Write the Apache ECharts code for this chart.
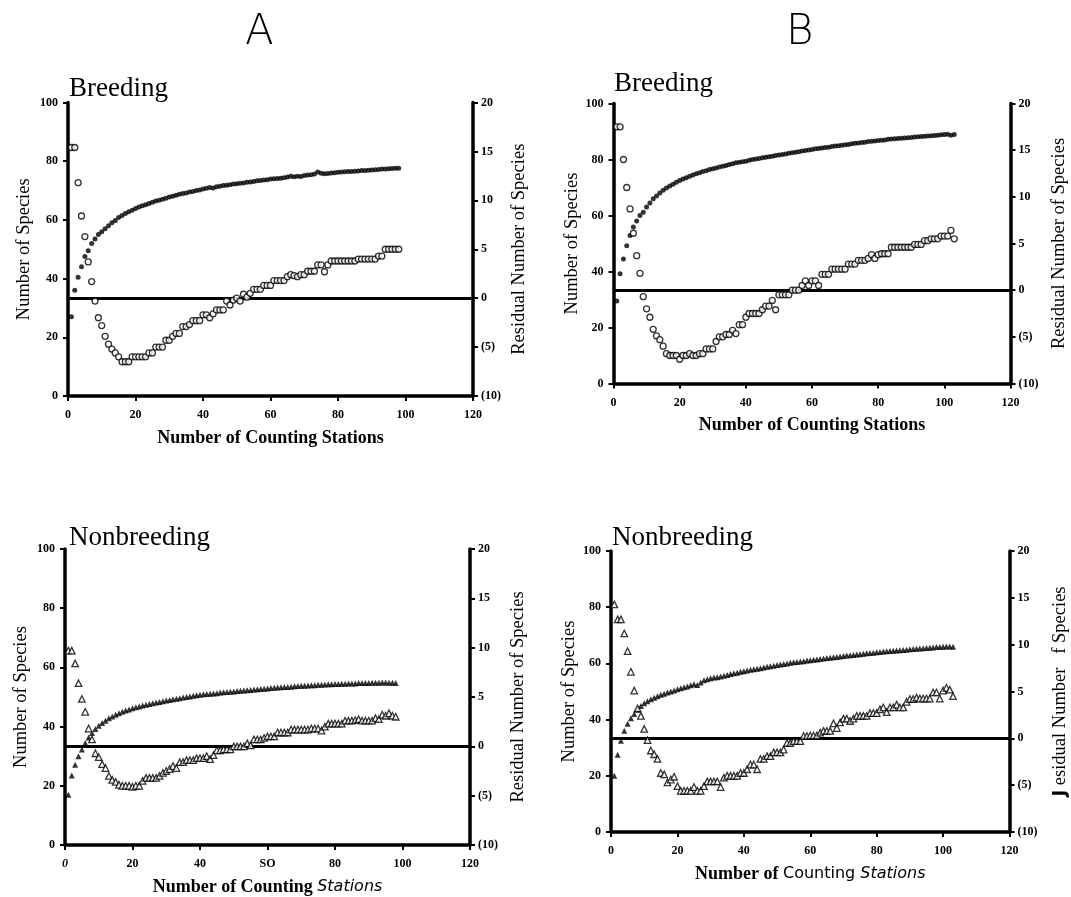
<!DOCTYPE html>
<html><head><meta charset="utf-8">
<script src="https://cdn.jsdelivr.net/npm/echarts@6/dist/echarts.min.js"></script>
<style>html,body{margin:0;padding:0;background:#fff}#c{width:1071px;height:897px}</style>
</head><body><div id="c"></div>
<script>
// ---------- tick labels / text ----------
const xTickLabels = ["0","20","40","60","80","100","120"];
const xTickLabelsNbA = ["{i|0}","20","40","SO","80","100","120"];
const leftTickLabels = ["0","20","40","60","80","100"];
const rightTickLabels = ["(10)","(5)","0","5","10","15","20"];
const panelTitles = ["Breeding","Breeding","Nonbreeding","Nonbreeding"];
const columnLetters = ["A","B"];

// ---------- data (x = 1, 2, 3, ... counting stations) ----------
// A – Breeding: cumulative number of species (filled circles)
const cumABreeding = [
 27,36,40.5,44,47.5,49.5,52,53.5,55,56,
 57,58,59,59.8,60.8,61.5,62.2,62.8,63.3,63.9,
 64.4,64.8,65.2,65.6,66,66.4,66.7,67,67.4,67.8,
 68.1,68.4,68.7,69,69.2,69.5,69.7,70,70.2,70.5,
 70.8,71,70.9,71.3,71.5,71.7,71.8,72,72.2,72.3,
 72.5,72.6,72.8,72.9,73.1,73.3,73.4,73.6,73.7,73.9,
 74,74.1,74.2,74.4,74.6,74.9,74.7,74.9,74.8,75.1,
 75.3,75.4,75.6,76.3,75.9,75.7,75.8,76,76.1,76.2,
 76.3,76.4,76.5,76.5,76.6,76.7,76.8,76.8,76.9,77,
 77.1,77.2,77.3,77.3,77.4,77.5,77.6,77.6];
// A – Breeding: residual number of species (open circles)
const resABreeding = [
 15.4,15.4,11.8,8.4,6.3,3.7,1.7,-0.3,-2.0,-2.8,
 -3.9,-4.7,-5.2,-5.6,-6.0,-6.5,-6.5,-6.5,-6.0,-6.0,
 -6.0,-6.0,-6.0,-5.6,-5.6,-5.0,-5.0,-5.0,-4.3,-4.3,
 -3.9,-3.6,-3.6,-2.9,-2.9,-2.7,-2.3,-2.3,-2.3,-1.7,
 -1.7,-2.0,-1.6,-1.2,-1.2,-1.2,-0.3,-0.7,-0.2,0.0,
 -0.3,0.4,0.1,0.5,0.9,0.9,0.9,1.3,1.3,1.3,
 1.8,1.8,1.8,1.8,2.2,2.4,2.3,2.2,2.4,2.4,
 2.75,2.75,2.75,3.4,3.4,2.7,3.4,3.8,3.8,3.8,
 3.8,3.8,3.8,3.8,3.8,4.0,4.0,4.0,4.0,4.0,
 4.0,4.3,4.3,5.0,5.0,5.0,5.0,5.0];
// B – Breeding
const cumBBreeding = [
 29.5,39.2,44.5,49.2,52.9,55.9,58,60,61.2,63,
 64.5,66,67,68,69,69.8,70.5,71.2,71.9,72.5,
 73,73.5,74,74.5,74.9,75.3,75.7,76,76.4,76.7,
 77,77.3,77.6,77.9,78.2,78.5,78.8,79,79.2,79.4,
 79.7,80,80.2,80.4,80.6,80.8,81,81.2,81.4,81.6,
 81.8,82,82.2,82.4,82.6,82.8,83,83.2,83.4,83.6,
 83.8,83.9,84.1,84.3,84.4,84.6,84.8,84.9,85.1,85.3,
 85.4,85.6,85.8,85.9,86.1,86.2,86.4,86.5,86.6,86.8,
 86.9,87,87.2,87.3,87.4,87.5,87.6,87.7,87.8,87.9,
 88,88.1,88.2,88.3,88.4,88.5,88.6,88.7,88.8,88.9,
 89,88.7,88.9];
const resBBreeding = [
 17.5,17.5,14.0,11.0,8.7,6.1,3.7,1.8,-0.7,-2.0,
 -2.9,-4.2,-4.9,-5.3,-6.0,-6.8,-7.0,-7.0,-7.0,-7.4,
 -7.0,-7.0,-6.8,-7.0,-7.0,-6.8,-6.8,-6.3,-6.3,-6.3,
 -5.5,-5.0,-5.0,-4.75,-4.75,-4.3,-4.65,-3.7,-3.7,-2.9,
 -2.5,-2.5,-2.5,-2.5,-2.1,-1.7,-1.7,-1.1,-2.1,-0.5,
 -0.5,-0.5,-0.5,0.0,0.0,0.0,0.5,1.0,0.5,1.0,
 1.0,0.5,1.7,1.7,1.7,2.25,2.25,2.25,2.25,2.25,
 2.8,2.8,2.8,3.2,3.2,3.2,3.4,3.8,3.4,3.8,
 3.9,3.9,3.9,4.6,4.6,4.6,4.6,4.6,4.6,4.6,
 4.9,4.9,4.9,5.3,5.3,5.5,5.5,5.5,5.8,5.8,
 5.8,6.4,5.5];
// A – Nonbreeding (triangles)
const cumANonbreeding = [
 17,23.5,27.1,30,32.3,34.5,36.3,37.8,39.2,40.3,
 41.2,42,42.8,43.4,44,44.5,45,45.4,45.8,46.2,
 46.5,46.8,47.1,47.4,47.6,47.9,48.1,48.3,48.6,48.8,
 49,49.2,49.4,49.6,49.8,50,50.2,50.4,50.6,50.8,
 50.9,51,51.1,51.2,51.3,51.5,51.6,51.7,51.8,51.9,
 52,52.1,52.2,52.3,52.4,52.5,52.6,52.7,52.8,52.9,
 53,53.1,53.2,53.3,53.4,53.4,53.5,53.6,53.7,53.8,
 53.8,53.9,54,54,54.1,54.1,54.2,54.3,54.3,54.4,
 54.4,54.5,54.5,54.6,54.6,54.6,54.7,54.7,54.7,54.7,
 54.8,54.8,54.8,54.9,54.9,54.8,54.8,54.7];
const resANonbreeding = [
 9.7,9.7,8.4,6.4,4.8,3.5,1.8,0.7,-0.7,-1.1,
 -1.8,-2.2,-3.0,-3.4,-3.6,-3.9,-4.0,-4.0,-4.0,-4.1,
 -4.0,-4.0,-3.5,-3.2,-3.2,-3.2,-3.2,-3.0,-2.7,-2.5,
 -2.3,-2.0,-2.2,-1.6,-1.6,-1.4,-1.4,-1.4,-1.2,-1.2,
 -1.2,-1.0,-1.3,-0.9,-0.4,-0.4,-0.3,-0.3,-0.3,0.0,
 0.0,0.0,0.0,0.3,0.1,0.7,0.7,0.7,0.85,1.0,
 1.0,1.0,1.4,1.4,1.4,1.4,1.7,1.7,1.7,1.7,
 1.7,1.7,1.8,1.8,1.8,1.6,2.0,2.3,2.3,2.3,
 2.3,2.3,2.6,2.6,2.6,2.65,2.75,2.6,2.6,2.6,
 2.6,2.85,2.75,3.2,3.1,3.35,3.1,3.0];
// B – Nonbreeding
const cumBNonbreeding = [
 20,27.5,32.5,36,38.5,40.5,42,43.5,44.8,45.8,
 46.5,47.2,47.8,48.3,48.8,49.2,49.6,50,50.4,50.8,
 51.2,51.5,51.8,52.2,52.6,52.3,53.2,54,54.4,54.7,
 55,55.1,55.3,55.6,55.9,56.2,56.5,56.7,57,57.2,
 57.5,57.7,57.9,58.1,58.3,58.5,58.8,59,59.2,59.4,
 59.6,59.8,60,60.2,60.4,60.5,60.7,60.8,61,61.1,
 61.3,61.4,61.6,61.7,61.9,62,62.2,62.3,62.5,62.6,
 62.8,62.9,63,63.2,63.3,63.4,63.6,63.7,63.8,64,
 64.1,64.2,64.3,64.4,64.5,64.6,64.7,64.8,64.9,65,
 65.1,65.2,65.3,65.4,65.5,65.6,65.7,65.8,65.8,65.9,
 66,66,65.9];
const resBNonbreeding = [
 14.3,12.7,12.7,11.2,9.3,7.1,5.1,3.2,2.4,1.0,
 -0.2,-1.3,-1.7,-2.2,-3.7,-3.85,-4.7,-4.4,-4.1,-5.1,
 -5.6,-5.6,-5.6,-5.6,-5.2,-5.6,-5.6,-5.1,-4.6,-4.6,
 -4.6,-4.6,-5.2,-4.2,-4.0,-4.0,-4.0,-4.0,-3.7,-3.7,
 -3.3,-2.8,-2.8,-3.3,-2.2,-2.2,-1.9,-1.9,-1.5,-1.5,
 -1.5,-1.2,-0.5,-0.5,-0.3,-0.3,-0.3,0.25,0.25,0.3,
 0.3,0.3,0.6,0.8,0.8,0.8,1.6,1.1,1.7,2.1,
 2.1,1.85,2.1,2.4,2.4,2.4,2.4,2.7,2.7,2.7,
 3.1,3.3,2.8,3.3,3.3,3.6,3.3,3.3,3.9,4.2,
 4.2,4.35,4.25,4.25,4.25,4.25,4.9,4.9,4.25,5.1,
 5.4,5.2,4.5];

// ---------- layout / style ----------
const SERIF = "'Liberation Serif','Times New Roman',serif";
const SANS = "'DejaVu Sans',sans-serif";
const grids = [
  {left:68,  top:102.5, width:405,   height:293.5},
  {left:613.5, top:103.5, width:397, height:280},
  {left:65,  top:549,   width:405,   height:296},
  {left:611, top:551,   width:398.5, height:281}
];
const leftNameGap  = [34, 32, 34, 32];
const rightNameGap = [37, 39, 39, 41];
const xNameGap     = [33, 33, 33, 33];
const titlePos = [[69,75],[614,70],[69,524],[612,524]];
const panels = [
  {cum:cumABreeding,   res:resABreeding,   shape:'circle',   xl:xTickLabels},
  {cum:cumBBreeding,   res:resBBreeding,   shape:'circle',   xl:xTickLabels},
  {cum:cumANonbreeding,res:resANonbreeding,shape:'triangle', xl:xTickLabelsNbA},
  {cum:cumBNonbreeding,res:resBNonbreeding,shape:'triangle', xl:xTickLabels}
];
const xNames = [
  "{a|Number of Counting Stations}",
  "{a|Number of Counting Stations}",
  "{a|Number of Counting }{b|Stations}",
  "{a|Number of }{c|Counting }{b|Stations}"
];
const rightNames = [
  "Residual Number of Species",
  "Residual Number of Species",
  "Residual Number of Species",
  "{g|J} esidual Number   f Species"
];

const axisLineStyle = {color:'#000', width:3.5};
const tickStyle = {show:true, inside:false, length:5, lineStyle:{color:'#000', width:2}};
const tickLabelStyle = {color:'#000', fontFamily:SERIF, fontWeight:'bold', fontSize:12};

const option = {
  backgroundColor:'#fff',
  animation:false,
  title: [],
  grid: grids.map(g => Object.assign({containLabel:false}, g)),
  xAxis: [], yAxis: [], series: []
};
columnLetters.forEach((t,i)=>{
  option.title.push({text:t, left: i===0 ? 245 : 786, top:12, padding:0,
    textStyle:{fontFamily:SANS, fontWeight:'lighter', fontSize:42, color:'#000'}});
});
panels.forEach((p,i)=>{
  option.title.push({text:panelTitles[i], left:titlePos[i][0], top:titlePos[i][1], padding:0,
    textStyle:{fontFamily:SERIF, fontWeight:'normal', fontSize:27, color:'#000'}});
  const xl = p.xl;
  option.xAxis.push({
    type:'value', gridIndex:i, min:0, max:120, interval:20,
    axisLine:{show:true, lineStyle:axisLineStyle},
    axisTick:tickStyle, splitLine:{show:false},
    axisLabel:Object.assign({margin:13, formatter:v=>xl[Math.round(v/20)],
      rich:{i:{fontStyle:'italic', fontFamily:SERIF, fontWeight:'bold', fontSize:12, color:'#000'}}}, tickLabelStyle),
    name:xNames[i], nameLocation:'middle', nameGap:xNameGap[i],
    nameTextStyle:{color:'#000', rich:{
      a:{fontFamily:SERIF, fontWeight:'bold', fontSize:18, color:'#000'},
      b:{fontFamily:SANS, fontStyle:'italic', fontSize:16, color:'#000'},
      c:{fontFamily:SANS, fontSize:16, color:'#000'}}}
  });
  option.yAxis.push({
    type:'value', gridIndex:i, position:'left', min:0, max:100, interval:20,
    axisLine:{show:true, lineStyle:axisLineStyle},
    axisTick:tickStyle, splitLine:{show:false},
    axisLabel:Object.assign({margin:10, formatter:v=>leftTickLabels[Math.round(v/20)]}, tickLabelStyle),
    name:'Number of Species', nameLocation:'middle', nameGap:leftNameGap[i], nameRotate:90,
    nameTextStyle:{fontFamily:SERIF, fontSize:18.5, color:'#000'}
  });
  option.yAxis.push({
    type:'value', gridIndex:i, position:'right', min:-10, max:20, interval:5,
    axisLine:{show:true, lineStyle:axisLineStyle},
    axisTick:tickStyle, splitLine:{show:false},
    axisLabel:Object.assign({margin:8, formatter:v=>rightTickLabels[Math.round((v+10)/5)]}, tickLabelStyle),
    name:rightNames[i], nameLocation:'middle', nameGap:rightNameGap[i], nameRotate:90,
    nameTextStyle:{fontFamily:SERIF, fontSize:18.5, color:'#000',
      rich:{g:{fontFamily:SANS, fontWeight:'bold', fontSize:18, color:'#000'}}}
  });
  const tri = p.shape === 'triangle';
  option.series.push({
    type:'scatter', xAxisIndex:i, yAxisIndex:2*i, symbol:p.shape,
    symbolSize: tri ? 6 : 5,
    itemStyle:{color:'#000'},
    data:p.cum.map((v,k)=>[k+1, v]), z:3
  });
  option.series.push({
    type:'scatter', xAxisIndex:i, yAxisIndex:2*i+1, symbol:p.shape,
    symbolSize: tri ? 6.5 : 6,
    itemStyle:{color:'#fff', borderColor:'#000', borderWidth:1.3},
    data:p.res.map((v,k)=>[k+1, v]), z:4,
    markLine:{silent:true, symbol:['none','none'], label:{show:false},
      lineStyle:{color:'#000', width:3, type:'solid'}, data:[{yAxis:0}], z:2}
  });
});
const chart = echarts.init(document.getElementById('c'), null, {renderer:'canvas'});
chart.setOption(option);
</script>
</body></html>
